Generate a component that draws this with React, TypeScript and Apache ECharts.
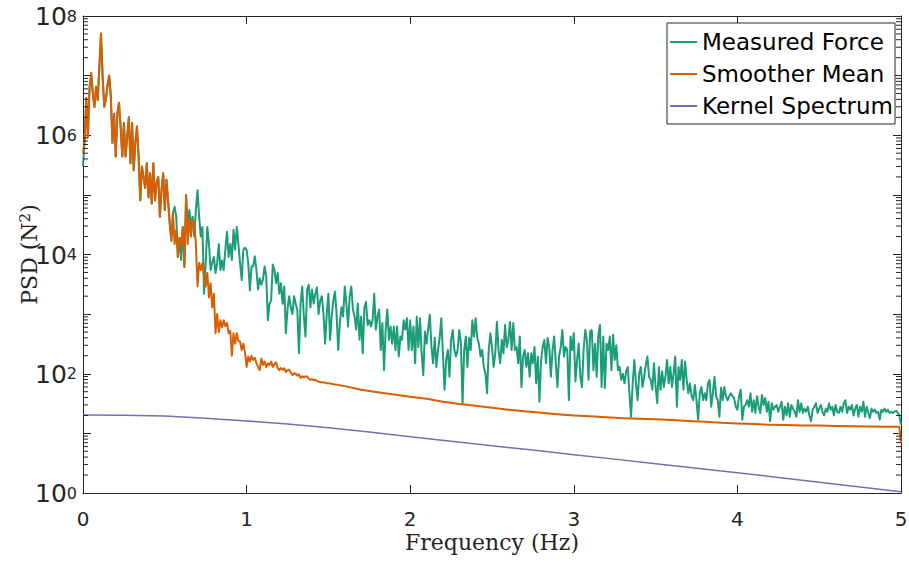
import React, { useEffect, useRef } from 'react';
import * as echarts from 'echarts';

// Frequency sampling step of the measured / smoothed spectra (Hz)
const FREQ_STEP = 0.01;

// Measured Force PSD, one value every 0.01 Hz from 0 to 5 Hz
const measuredForce = [
  3.0e5, 8.3e5, 4.2e6, 9.3e5, 6.3e6, 1.1e7, 5.1e6, 3.0e6, 6.5e6, 3.9e6,
  1.4e7, 5.1e7, 9.5e6, 3.0e6, 4.0e6, 6.9e6, 1.0e7, 4.5e6, 7.4e5, 2.3e6,
  4.4e5, 2.3e6, 3.5e6, 1.4e6, 4.4e5, 1.6e6, 4.4e5, 9.3e5, 2.0e6, 3.4e5,
  1.6e6, 2.6e5, 7.4e5, 1.4e6, 4.4e5, 8.1e4, 3.0e5, 2.0e5, 1.3e5, 3.4e5,
  9.1e4, 2.3e5, 7.2e4, 3.4e5, 8.1e4, 1.6e5, 2.0e5, 4.3e4, 1.2e5, 2.3e5,
  5.6e4, 1.8e5, 8.1e4, 3.4e4, 1.7e4, 5.0e4, 6.3e4, 4.3e4, 9.1e3, 1.9e4,
  8.1e3, 2.9e4, 6.2e3, 8.9e4, 3.4e4, 5.6e4, 3.0e4, 4.3e4, 2.0e4, 5.6e4,
  1.2e5, 4.3e4, 2.0e4, 2.9e4, 2.2e3, 7.2e3, 2.9e4, 1.5e4, 5.5e3, 7.2e3,
  9.1e3, 4.9e3, 7.2e3, 1.5e4, 5.5e3, 7.9e3, 5.5e3, 1.2e4, 2.4e4, 9.1e3,
  1.5e4, 8.1e3, 2.6e4, 1.2e4, 2.9e4, 1.5e4, 7.2e3, 3.7e3, 1.2e4, 1.3e4,
  1.2e4, 7.2e3, 2.5e3, 6.3e3, 6.3e3, 9.3e3, 5.5e3, 2.6e3, 4.0e3, 3.1e3,
  3.8e3, 6.3e3, 4.3e3, 790, 1.5e3, 1.7e3, 6.8e3, 5.5e3, 3.3e3, 4.9e3,
  2.2e3, 3.3e3, 1.5e3, 2.9e3, 480, 1.2e3, 2.0e3, 1.3e3, 1.0e3, 2.0e3,
  1.5e3, 1.2e3, 220, 1.5e3, 2.9e3, 910, 420, 2.6e3, 3.1e3, 1.3e3,
  2.6e3, 1.5e3, 2.2e3, 2.8e3, 1.0e3, 1.7e3, 2.0e3, 1.0e3, 320, 1.0e3,
  2.2e3, 370, 910, 1.7e3, 2.4e3, 1.0e3, 250, 710, 1.3e3, 910,
  2.9e3, 1.5e3, 620, 2.0e3, 2.9e3, 1.2e3, 910, 550, 1.5e3, 370,
  910, 220, 1.3e3, 1.6e3, 660, 790, 620, 790, 2.2e3, 550,
  910, 1.2e3, 250, 710, 115, 550, 1.2e3, 370, 620, 320,
  620, 250, 620, 195, 420, 370, 790, 550, 850, 250,
  790, 250, 620, 150, 910, 280, 850, 220, 95, 510,
  320, 580, 980, 280, 150, 400, 130, 250, 400, 850,
  220, 54, 170, 250, 89, 370, 540, 250, 195, 250,
  540, 320, 32, 250, 420, 130, 400, 250, 790, 420,
  850, 400, 320, 195, 250, 130, 100, 47, 250, 480,
  280, 130, 220, 740, 250, 150, 370, 220, 660, 280,
  370, 740, 250, 710, 250, 280, 150, 420, 60, 195,
  250, 130, 220, 89, 220, 150, 280, 69, 195, 34,
  170, 280, 370, 150, 400, 280, 89, 250, 420, 150,
  60, 195, 280, 540, 195, 280, 250, 36, 420, 250,
  480, 74, 170, 320, 89, 60, 250, 540, 370, 79,
  510, 540, 115, 320, 89, 450, 660, 60, 420, 58,
  320, 250, 420, 115, 450, 170, 300, 115, 130, 79,
  100, 69, 110, 130, 47, 19, 69, 170, 69, 36,
  100, 130, 60, 89, 140, 195, 89, 79, 54, 150,
  60, 32, 130, 54, 110, 60, 89, 170, 69, 130,
  60, 100, 195, 28, 130, 79, 170, 54, 160, 79,
  47, 69, 42, 36, 65, 36, 17, 47, 60, 36,
  47, 36, 69, 79, 28, 47, 89, 42, 36, 19,
  58, 36, 60, 42, 36, 42, 47, 42, 39, 28,
  25, 42, 54, 17, 28, 30, 36, 28, 47, 23,
  36, 22, 42, 28, 22, 44, 30, 39, 23, 34,
  16, 32, 25, 28, 30, 23, 28, 34, 17, 28,
  20, 32, 19, 30, 26, 23, 19, 36, 23, 32,
  22, 26, 23, 28, 20, 16, 25, 28, 32, 22,
  26, 30, 23, 20, 26, 23, 32, 25, 28, 20,
  30, 23, 22, 28, 23, 32, 36, 22, 28, 25,
  30, 20, 26, 30, 19, 28, 23, 34, 19, 28,
  22, 18, 26, 23, 25, 22, 23, 17, 25, 23,
  26, 23, 25, 22, 23, 22, 23, 24, 22, 20,
  14,
];

// Smoother Mean PSD, every 0.01 Hz from 0 to 1.49 Hz
const smootherLow = [
  5.0e5, 8.3e5, 4.2e6, 9.3e5, 6.3e6, 1.1e7, 5.1e6, 3.0e6, 6.5e6, 3.9e6,
  1.4e7, 5.1e7, 9.5e6, 3.0e6, 4.0e6, 6.9e6, 1.0e7, 4.5e6, 7.4e5, 2.3e6,
  4.4e5, 2.3e6, 3.5e6, 1.4e6, 4.4e5, 1.6e6, 4.4e5, 9.3e5, 2.0e6, 3.4e5,
  1.6e6, 2.6e5, 7.4e5, 1.4e6, 4.4e5, 8.1e4, 3.0e5, 2.0e5, 1.3e5, 3.4e5,
  9.1e4, 2.3e5, 7.2e4, 3.4e5, 8.1e4, 1.6e5, 2.0e5, 4.3e4, 1.2e5, 2.3e5,
  5.6e4, 1.8e5, 8.1e4, 3.4e4, 1.7e4, 5.0e4, 1.5e4, 2.6e4, 9.1e3, 1.9e4,
  1.5e4, 2.9e4, 6.2e3, 1.0e5, 1.5e4, 4.0e4, 2.0e4, 3.8e4, 3.3e4, 1.5e4,
  2.9e3, 7.2e3, 5.5e3, 7.2e3, 4.3e3, 2.9e3, 4.9e3, 1.9e3, 3.3e3, 1.3e3,
  2.2e3, 480, 1.0e3, 500, 790, 600, 790, 630, 710, 480,
  520, 200, 480, 320, 480, 350, 350, 250, 320, 230,
  130, 195, 160, 200, 170, 185, 150, 130, 115, 180,
  140, 160, 130, 150, 140, 160, 130, 145, 155, 125,
  115, 125, 117, 123, 107, 115, 117, 105, 95, 102,
  100, 93, 98, 85, 91, 87, 91, 89, 83, 79,
  81, 78, 79, 76, 74, 72, 72, 71, 71, 69,
];

// Smoother Mean PSD, smooth tail
const smootherTailFreq = [
  1.5, 1.6, 1.7, 1.8, 1.9, 2.0, 2.1, 2.2, 2.3, 2.4, 2.5, 2.6, 2.7, 2.8, 2.9,
  3.0, 3.1, 3.2, 3.3, 3.4, 3.5, 3.6, 3.7, 3.8, 3.9, 4.0, 4.1, 4.2, 4.3, 4.4,
  4.5, 4.6, 4.7, 4.8, 4.9, 4.99, 5.0,
];
const smootherTail = [
  69, 62, 54, 49, 45, 41, 38, 34, 31, 29, 27, 25, 23.4, 22.1, 20.9,
  20, 19.3, 18.6, 18, 17.6, 17.2, 16.8, 16.2, 15.7, 15.1, 14.6, 14.3, 14.0, 13.8, 13.6,
  13.5, 13.3, 13.2, 13.0, 12.9, 12.9, 6.9,
];

// Kernel Spectrum
const kernelFreq = [
  0, 0.25, 0.5, 0.75, 1.0, 1.25, 1.5, 1.75, 2.0, 2.25, 2.5,
  2.75, 3.0, 3.25, 3.5, 3.75, 4.0, 4.25, 4.5, 4.75, 5.0,
];
const kernelSpectrum = [
  20.4, 20.2, 19.5, 18.0, 16.2, 14.3, 12.4, 10.5, 8.8, 7.4, 6.2,
  5.25, 4.4, 3.7, 3.1, 2.6, 2.19, 1.82, 1.51, 1.26, 1.05,
];

// Log-axis minor tick positions
const minorMantissas = [2, 3, 4, 5, 6, 7, 8, 9];
const minorDecades = [1, 10, 100, 1e3, 1e4, 1e5, 1e6, 1e7];

const seriesNames = ['Measured Force', 'Smoother Mean', 'Kernel Spectrum'];
const seriesColors = ['#1b9e77', '#d95f02', '#7570b3'];

const AXIS_COLOR = '#262626';
const SANS = 'DejaVu Sans';
const SERIF = 'DejaVu Serif';

export default function App() {
  const ref = useRef<HTMLDivElement>(null);

  useEffect(() => {
    if (!ref.current) return;
    const chart = echarts.init(ref.current, null, { renderer: 'svg' });

    const measuredData = measuredForce.map((v, i) => [Number((i * FREQ_STEP).toFixed(2)), v]);
    const smootherData = smootherLow
      .map((v, i) => [Number((i * FREQ_STEP).toFixed(2)), v])
      .concat(smootherTailFreq.map((f, i) => [f, smootherTail[i]]));
    const kernelData = kernelFreq.map((f, i) => [f, kernelSpectrum[i]]);

    const axisLine = { show: true, onZero: false, lineStyle: { color: AXIS_COLOR, width: 1 } };
    const axisTick = { show: true, inside: true, length: 8, lineStyle: { color: AXIS_COLOR, width: 1 } };

    chart.setOption({
      animation: false,
      backgroundColor: '#ffffff',
      grid: { left: 83, right: 8, top: 16, bottom: 72, outerBoundsMode: 'none' },
      legend: {
        data: seriesNames,
        orient: 'vertical',
        left: 667,
        top: 23,
        padding: [6, 2, 5, 3],
        itemGap: 6,
        itemWidth: 27,
        itemHeight: 2,
        icon: 'rect',
        borderColor: AXIS_COLOR,
        borderWidth: 1,
        backgroundColor: '#ffffff',
        borderRadius: 0,
        z: 10,
        textStyle: { fontFamily: SANS, fontSize: 23, color: '#000000', lineHeight: 26, padding: [0, 0, 0, 0] },
      },
      xAxis: [
        {
          type: 'value',
          min: 0,
          max: 5,
          interval: 1,
          position: 'bottom',
          axisLine,
          axisTick,
          splitLine: { show: false },
          axisLabel: { color: AXIS_COLOR, fontFamily: SANS, fontSize: 20, lineHeight: 20, margin: 16 },
          name: 'Frequency (Hz)',
          nameLocation: 'middle',
          nameGap: 38,
          nameMoveOverlap: false,
          nameTextStyle: { fontFamily: SERIF, fontSize: 22, lineHeight: 22, color: AXIS_COLOR },
        },
        {
          type: 'value',
          min: 0,
          max: 5,
          interval: 1,
          position: 'top',
          axisLine,
          axisTick,
          splitLine: { show: false },
          axisLabel: { show: false },
        },
      ],
      yAxis: [
        {
          type: 'log',
          logBase: 10,
          min: 1,
          max: 1e8,
          interval: 1,
          position: 'left',
          axisLine,
          axisTick,
          splitLine: { show: false },
          axisLabel: {
            margin: 6,
            formatter: (value: number) => {
              const e = Math.round(Math.log10(value));
              if (e % 2 !== 0) return '';
              return `{b|10}{s|${e}}`;
            },
            rich: {
              b: { fontFamily: SANS, fontSize: 25, lineHeight: 26, color: AXIS_COLOR, padding: [10, 0, 0, 0], verticalAlign: 'bottom' },
              s: { fontFamily: SANS, fontSize: 16, lineHeight: 16, color: AXIS_COLOR, padding: [5, 0, 0, 0], verticalAlign: 'top' },
            },
          },
          name: '{a|PSD (N}{s|2}{a|)}',
          nameLocation: 'middle',
          nameRotate: 90,
          nameGap: 43,
          nameMoveOverlap: false,
          nameTextStyle: {
            rich: {
              a: { fontFamily: SERIF, fontSize: 22, lineHeight: 24, color: AXIS_COLOR, padding: [6, 0, 0, 0], verticalAlign: 'bottom' },
              s: { fontFamily: SERIF, fontSize: 15, lineHeight: 15, color: AXIS_COLOR, padding: [1, 0, 0, 0], verticalAlign: 'top' },
            },
          },
        },
        {
          type: 'log',
          logBase: 10,
          min: 1,
          max: 1e8,
          interval: 1,
          position: 'right',
          axisLine,
          axisTick,
          splitLine: { show: false },
          axisLabel: { show: false },
        },
      ],
      series: [
        {
          name: seriesNames[0],
          type: 'line',
          data: measuredData,
          symbol: 'none',
          showSymbol: false,
          color: seriesColors[0],
          lineStyle: { color: seriesColors[0], width: 2, join: 'round' },
          z: 2,
        },
        {
          name: seriesNames[1],
          type: 'line',
          data: smootherData,
          symbol: 'none',
          showSymbol: false,
          color: seriesColors[1],
          lineStyle: { color: seriesColors[1], width: 2, join: 'round' },
          z: 3,
        },
        {
          name: seriesNames[2],
          type: 'line',
          data: kernelData,
          symbol: 'none',
          showSymbol: false,
          color: seriesColors[2],
          lineStyle: { color: seriesColors[2], width: 1.5, join: 'round' },
          z: 4,
        },
      ],
    });

    // Minor ticks of the log axis, placed through the axis' own scale
    const xLeft = chart.convertToPixel({ xAxisIndex: 0 }, 0) as number;
    const xRight = chart.convertToPixel({ xAxisIndex: 0 }, 5) as number;
    const minorLines: any[] = [];
    minorDecades.forEach((d) =>
      minorMantissas.forEach((m) => {
        const y = chart.convertToPixel({ yAxisIndex: 0 }, m * d) as number;
        if (!isFinite(y)) return;
        minorLines.push({
          type: 'line',
          silent: true,
          z: 20,
          shape: { x1: xLeft, y1: y, x2: xLeft + 5, y2: y },
          style: { stroke: AXIS_COLOR, lineWidth: 1 },
        });
        minorLines.push({
          type: 'line',
          silent: true,
          z: 20,
          shape: { x1: xRight - 5, y1: y, x2: xRight, y2: y },
          style: { stroke: AXIS_COLOR, lineWidth: 1 },
        });
      })
    );
    chart.setOption({ graphic: { elements: minorLines } });

    return () => chart.dispose();
  }, []);

  return <div ref={ref} style={{ position: 'fixed', left: 0, top: 0, width: 909, height: 565 }} />;
}
